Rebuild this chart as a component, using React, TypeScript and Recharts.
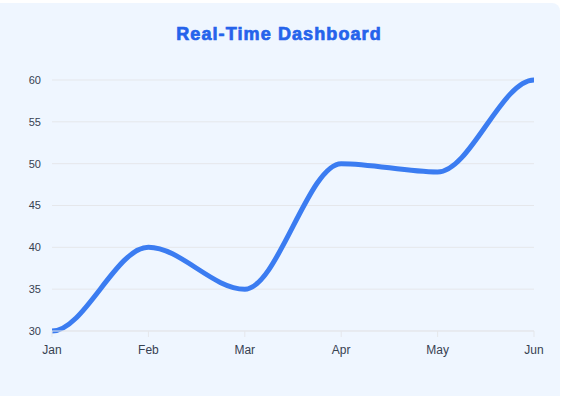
import { LineChart, Line, XAxis, YAxis, CartesianGrid } from "recharts";

const months = ["Jan", "Feb", "Mar", "Apr", "May", "Jun"];
const values = [30, 40, 35, 50, 49, 60];
const yTicks = [30, 35, 40, 45, 50, 55, 60];

const data = months.map((m, i) => ({ month: m, value: values[i] }));

// cubic segments with flat tangents at every point (handles at 1/3 of the gap)
const flatCurve = (context: any) => {
  let x0 = 0;
  let y0 = 0;
  let started = false;
  return {
    areaStart() {},
    areaEnd() {},
    lineStart() {
      started = false;
    },
    lineEnd() {},
    point(x: number, y: number) {
      x = +x;
      y = +y;
      if (!started) {
        context.moveTo(x, y);
        started = true;
      } else {
        const h = (x - x0) / 3;
        context.bezierCurveTo(x0 + h, y0, x - h, y, x, y);
      }
      x0 = x;
      y0 = y;
    },
  };
};

export default function App() {
  return (
    <div style={{ position: "absolute", left: 0, top: 0, width: 562, height: 396, overflow: "hidden", fontFamily: "Arial, 'Liberation Sans', sans-serif" }}>
      <div
        style={{
          position: "absolute",
          left: -12,
          top: 3,
          width: 572,
          height: 420,
          background: "#eff6ff",
          borderRadius: 8,
        }}
      />
      <div
        style={{
          position: "absolute",
          left: 0,
          width: 558,
          top: 22,
          textAlign: "center",
          color: "#2563eb",
          fontSize: 18,
          fontWeight: 900,
          lineHeight: "24px",
          letterSpacing: 1.1,
          WebkitTextStroke: "0.7px #2563eb",
        }}
      >
        Real-Time Dashboard
      </div>
      <div style={{ position: "absolute", left: 0, top: 0 }}>
        <LineChart width={562} height={396} data={data} margin={{ top: 80, right: 28, left: 0, bottom: 35 }}>
          <CartesianGrid vertical={false} stroke="#e5e7eb" />
          <XAxis
            dataKey="month"
            stroke="#e5e7eb"
            tick={{ fill: "#374151", fontSize: 12 }}
            tickMargin={8}
            height={30}
          />
          <YAxis
            domain={[30, 60]}
            ticks={yTicks}
            axisLine={false}
            tickLine={false}
            width={52}
            tick={{ fill: "#374151", fontSize: 11 }}
            tickMargin={5}
          />
          <Line
            type={flatCurve as any}
            dataKey="value"
            stroke="#3b7cf1"
            strokeWidth={5}
            dot={false}
            isAnimationActive={false}
          />
        </LineChart>
      </div>
    </div>
  );
}
